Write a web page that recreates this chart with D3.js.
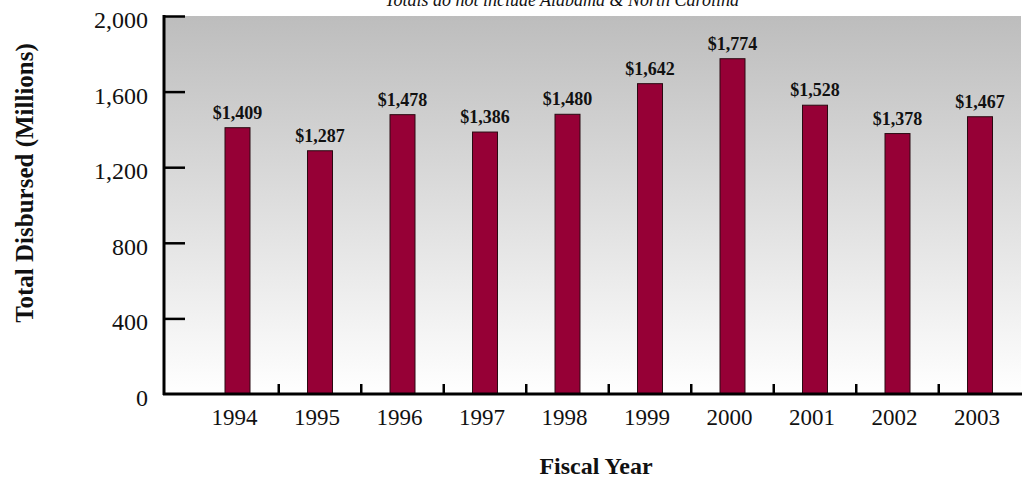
<!DOCTYPE html>
<html>
<head>
<meta charset="utf-8">
<script src="https://cdn.jsdelivr.net/npm/d3@7"></script>
<style>
  html, body { margin: 0; padding: 0; background: #fff; }
  svg { display: block; }
  text { font-family: "Liberation Serif", "Times New Roman", serif; fill: #111; }
</style>
</head>
<body>
<svg id="chart" width="1022" height="481"></svg>
<script>
const years = ["1994","1995","1996","1997","1998","1999","2000","2001","2002","2003"];
const disbursed = [1409, 1287, 1478, 1386, 1480, 1642, 1774, 1528, 1378, 1467];
const valueLabels = ["$1,409","$1,287","$1,478","$1,386","$1,480","$1,642","$1,774","$1,528","$1,378","$1,467"];
const yTicks = [0, 400, 800, 1200, 1600, 2000];
const subtitle = "Totals do not include Alabama & North Carolina";
const yTitle = "Total Disbursed (Millions)";
const xTitle = "Fiscal Year";

const svg = d3.select("#chart");
const plotLeft = 164, plotRight = 1021, plotTop = 16, plotBottom = 394;

const x = d3.scaleBand().domain(years).range([196.25, 1021.25]).paddingInner(0.697).paddingOuter(0.3485);
const y = d3.scaleLinear().domain([0, 2000]).range([plotBottom, plotTop]);

// background gradient
const defs = svg.append("defs");
const grad = defs.append("linearGradient").attr("id", "bg").attr("x1", 0).attr("y1", 0).attr("x2", 0).attr("y2", 1);
grad.append("stop").attr("offset", "0%").attr("stop-color", "#bdbdbd");
grad.append("stop").attr("offset", "100%").attr("stop-color", "#ffffff");
svg.append("rect")
  .attr("x", plotLeft).attr("y", plotTop)
  .attr("width", plotRight - plotLeft).attr("height", plotBottom - plotTop)
  .attr("fill", "url(#bg)");

// subtitle
svg.append("text")
  .attr("x", 562).attr("y", 6)
  .attr("text-anchor", "middle")
  .style("font-style", "italic")
  .style("font-size", "18px")
  .text(subtitle);

// bars
svg.append("g").selectAll("rect").data(years).join("rect")
  .attr("x", d => x(d))
  .attr("width", x.bandwidth())
  .attr("y", (d, i) => y(disbursed[i]))
  .attr("height", (d, i) => y(0) - y(disbursed[i]))
  .attr("fill", "#960036")
  .attr("stroke", "#2a0a12")
  .attr("stroke-width", 1);

// value labels
svg.append("g").selectAll("text").data(years).join("text")
  .attr("x", d => x(d) + x.bandwidth() / 2)
  .attr("y", (d, i) => y(disbursed[i]) - 9)
  .attr("text-anchor", "middle")
  .style("font-weight", "bold")
  .style("font-size", "18px")
  .text((d, i) => valueLabels[i]);

// y axis
const yAxis = d3.axisRight(y).tickValues(yTicks.filter(v => v > 0)).tickSize(21).tickFormat("");
const gy = svg.append("g").attr("transform", `translate(${plotLeft},0)`).call(yAxis);
gy.select(".domain").remove();
gy.selectAll(".tick line").attr("stroke", "#000").attr("stroke-width", 2.5);
svg.append("line")
  .attr("x1", plotLeft).attr("x2", plotLeft)
  .attr("y1", plotTop - 1).attr("y2", plotBottom + 1)
  .attr("stroke", "#000").attr("stroke-width", 3);

// y tick labels
svg.append("g").selectAll("text").data(yTicks).join("text")
  .attr("x", 148)
  .attr("y", d => y(d) + 12)
  .attr("text-anchor", "end")
  .style("font-size", "24px")
  .text(d => d3.format(",")(d));

// x baseline and ticks between categories
svg.append("line")
  .attr("x1", plotLeft - 1).attr("x2", 1022)
  .attr("y1", plotBottom).attr("y2", plotBottom)
  .attr("stroke", "#000").attr("stroke-width", 3);
svg.append("g").selectAll("line").data(years.slice(1)).join("line")
  .attr("x1", d => x(d) - x.step() * x.paddingInner() / 2)
  .attr("x2", d => x(d) - x.step() * x.paddingInner() / 2)
  .attr("y1", plotBottom).attr("y2", plotBottom - 10)
  .attr("stroke", "#000").attr("stroke-width", 2.5);

// x tick labels
svg.append("g").selectAll("text").data(years).join("text")
  .attr("x", d => x(d) + x.bandwidth() / 2 - 3)
  .attr("y", 425)
  .attr("text-anchor", "middle")
  .style("font-size", "23px")
  .text(d => d);

// axis titles
svg.append("text")
  .attr("transform", "translate(33,183) rotate(-90)")
  .attr("text-anchor", "middle")
  .style("font-weight", "bold")
  .style("font-size", "25px")
  .text(yTitle);

svg.append("text")
  .attr("x", 596).attr("y", 474)
  .attr("text-anchor", "middle")
  .style("font-weight", "bold")
  .style("font-size", "24px")
  .text(xTitle);
</script>
</body>
</html>
